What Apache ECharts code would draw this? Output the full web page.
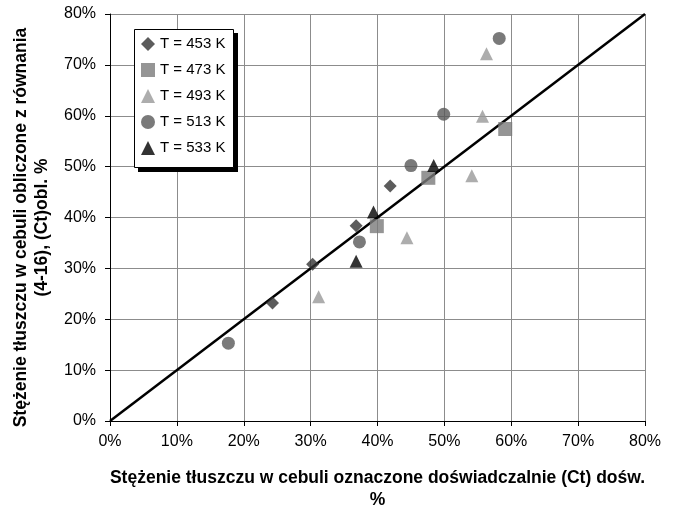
<!DOCTYPE html>
<html>
<head>
<meta charset="utf-8">
<script src="https://cdn.jsdelivr.net/npm/echarts@6/dist/echarts.min.js"></script>
<style>
  html, body { margin: 0; padding: 0; background: #fff; }
  #chart { width: 677px; height: 511px; }
</style>
</head>
<body>
<div id="chart"></div>
<script>
// measured (x) vs calculated (y), in %
var t453 = [[24.3, 23.2], [30.3, 30.8], [36.8, 38.4], [41.9, 46.2]];
var t473 = [[39.9, 38.3], [47.6, 47.8], [59.1, 57.4]];
var t493 = [[31.2, 24.4], [44.4, 36.0], [54.1, 48.2], [55.7, 59.9], [56.3, 72.2]];
var t513 = [[17.7, 15.3], [37.3, 35.2], [45.0, 50.2], [49.9, 60.3], [58.2, 75.2]];
var t533 = [[36.8, 31.4], [39.4, 41.1], [48.4, 50.2]];
var diagonal = [[0, 0], [80, 80]];
var seriesNames = ['T = 453 K', 'T = 473 K', 'T = 493 K', 'T = 513 K', 'T = 533 K'];

var chart = echarts.init(document.getElementById('chart'));

function pts(name, data, symbol, size, color) {
  return {
    name: name,
    type: 'scatter',
    symbol: symbol,
    symbolSize: size,
    itemStyle: { color: color },
    data: data,
    z: 3
  };
}

var font = 'Liberation Sans, Arial, sans-serif';

chart.setOption({
  animation: false,
  textStyle: { fontFamily: font },
  grid: { left: 110, right: 32, top: 14, bottom: 90, containLabel: false, outerBoundsMode: 'none' },
  // legend frame with hard black shadow
  graphic: [
    { type: 'rect', left: 138, top: 33, z: 5, shape: { width: 100, height: 139 }, style: { fill: '#000' } },
    { type: 'rect', left: 134, top: 29, z: 6, shape: { width: 99, height: 138 }, style: { fill: '#fff', stroke: '#000', lineWidth: 1 } }
  ],
  legend: {
    orient: 'vertical',
    left: 134,
    top: 29,
    z: 10,
    padding: [7, 8, 7, 7],
    itemGap: 10,
    itemWidth: 14,
    itemHeight: 14,
    textStyle: { fontFamily: font, fontSize: 15, lineHeight: 16, color: '#000' },
    data: seriesNames
  },
  xAxis: {
    type: 'value',
    min: 0, max: 80, interval: 10,
    name: 'Stężenie tłuszczu w cebuli oznaczone doświadczalnie (Ct) dośw.\n%',
    nameLocation: 'middle',
    nameGap: 46,
    nameTextStyle: { fontFamily: font, fontSize: 17.5, fontWeight: 'bold', color: '#000', lineHeight: 22, verticalAlign: 'top' },
    axisLine: { lineStyle: { color: '#000', width: 1 } },
    axisTick: { show: true, length: 5, lineStyle: { color: '#000' } },
    axisLabel: { formatter: '{value}%', fontSize: 16, color: '#000', margin: 13, fontFamily: font },
    splitLine: { show: true, lineStyle: { color: '#8c8c8c', width: 1 } }
  },
  yAxis: {
    type: 'value',
    min: 0, max: 80, interval: 10,
    name: 'Stężenie tłuszczu w cebuli obliczone z równania\n(4-16), (Ct)obl. %',
    nameLocation: 'middle',
    nameGap: 53,
    nameTextStyle: { fontFamily: font, fontSize: 17.5, fontWeight: 'bold', color: '#000', lineHeight: 21, padding: [0, 20, 0, 0] },
    axisLine: { show: true, lineStyle: { color: '#000', width: 1 } },
    axisTick: { show: true, length: 5, lineStyle: { color: '#000' } },
    axisLabel: { formatter: '{value}%', fontSize: 16, color: '#000', margin: 14, fontFamily: font },
    splitLine: { show: true, lineStyle: { color: '#8c8c8c', width: 1 } }
  },
  series: [
    {
      name: 'y = x',
      type: 'line',
      data: diagonal,
      symbol: 'none',
      lineStyle: { color: '#000', width: 2.5 },
      z: 2
    },
    pts(seriesNames[0], t453, 'diamond', 13, '#333333'),
    pts(seriesNames[1], t473, 'rect', 14, '#7a7a7a'),
    pts(seriesNames[2], t493, 'triangle', 13, '#999999'),
    pts(seriesNames[3], t513, 'circle', 13, '#595959'),
    pts(seriesNames[4], t533, 'triangle', 13, '#000000')
  ]
});
</script>
</body>
</html>
